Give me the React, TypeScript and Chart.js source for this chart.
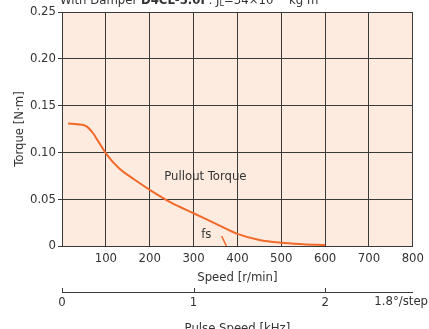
import React, { useEffect, useRef } from "react";
import { Chart, registerables } from "chart.js";

Chart.register(...registerables);

const speeds = [14, 35, 55, 70, 85, 100, 130, 165, 200, 250, 300, 350, 400, 450, 500, 550, 600];
const torques = [0.131, 0.130, 0.128, 0.121, 0.110, 0.099, 0.083, 0.071, 0.060, 0.046, 0.035, 0.024, 0.013, 0.0065, 0.0035, 0.002, 0.001];
const fsSpeeds = [364, 375];
const fsTorques = [0.0105, 0];
const pulseTicks = [0, 1, 2];
const pulseMax = 800 / 300;
const curveLabel = "Pullout Torque";
const fsLabel = "fs";
const stepLabel = "1.8°/step";

const FAMILY = "'DejaVu Sans Condensed', 'Liberation Sans', sans-serif";
const FS = 13;
const TXT = "#333333";
const GRID = "#3a3a3a";
const FILL = "#fdebdf";
const ORANGE = "#f26a2a";

const plugin = {
  id: "extras",
  beforeDraw(chart: any) {
    const { ctx, chartArea } = chart;
    ctx.save();
    ctx.fillStyle = FILL;
    ctx.fillRect(chartArea.left, chartArea.top, chartArea.right - chartArea.left, chartArea.bottom - chartArea.top);
    ctx.restore();
  },
  afterDraw(chart: any) {
    const { ctx } = chart;
    const x = chart.scales.x;
    const y = chart.scales.y;
    const x2 = chart.scales.x2;
    ctx.save();
    ctx.fillStyle = TXT;
    ctx.font = `${FS}px ${FAMILY}`;
    ctx.textAlign = "center";
    ctx.textBaseline = "middle";
    ctx.fillText(curveLabel, x.getPixelForValue(327), y.getPixelForValue(0.0737));
    ctx.fillText(fsLabel, x.getPixelForValue(329), y.getPixelForValue(0.0118));
    // up ticks on pulse axis
    ctx.strokeStyle = GRID;
    ctx.lineWidth = 1;
    ctx.beginPath();
    for (const v of pulseTicks) {
      const px = Math.round(x2.getPixelForValue(v)) + 0.5;
      ctx.moveTo(px, x2.top);
      ctx.lineTo(px, x2.top - 4);
    }
    ctx.stroke();
    ctx.textAlign = "right";
    ctx.fillText(stepLabel, chart.width - 1, x2.top + 10);
    // header
    ctx.textAlign = "left";
    ctx.textBaseline = "alphabetic";
    let cx = x.left - 2;
    const by = 4;
    const seg = (t: string, font: string, dy = 0) => {
      ctx.font = font;
      ctx.fillText(t, cx, by + dy);
      cx += ctx.measureText(t).width;
    };
    const reg = `${FS}px ${FAMILY}`;
    const bold = `bold ${FS}px ${FAMILY}`;
    const small = `9px ${FAMILY}`;
    seg("With Damper ", reg);
    seg("D4CL-5.0F", bold);
    seg(": J", reg);
    seg("L", small, 2);
    seg("=34×10", reg);
    seg("−7", small, -6);
    seg(" kg·m", reg);
    seg("2", small, -6);
    ctx.restore();
  },
};

export default function App() {
  const ref = useRef<HTMLCanvasElement>(null);
  useEffect(() => {
    if (!ref.current) return;
    const font = { family: FAMILY, size: FS };
    const chart = new Chart(ref.current, {
      type: "line",
      data: {
        datasets: [
          {
            data: speeds.map((s, i) => ({ x: s, y: torques[i] })),
            borderColor: ORANGE,
            borderWidth: 2,
            pointRadius: 0,
            cubicInterpolationMode: "monotone",
            fill: false,
          },
          {
            data: fsSpeeds.map((s, i) => ({ x: s, y: fsTorques[i] })),
            borderColor: ORANGE,
            borderWidth: 1.5,
            pointRadius: 0,
            fill: false,
          },
        ],
      },
      options: {
        animation: false,
        responsive: false,
        maintainAspectRatio: false,
        layout: { padding: { top: 12, right: 15, bottom: 0, left: 0 } },
        plugins: { legend: { display: false }, tooltip: { enabled: false } },
        scales: {
          x: {
            type: "linear",
            position: "bottom",
            min: 0,
            max: 800,
            afterFit: (s: any) => { s.height = 46; },
            ticks: {
              stepSize: 100,
              color: TXT,
              font,
              padding: 5,
              maxRotation: 0,
              callback: (v: any) => (v === 0 ? "" : String(v)),
            },
            grid: { color: GRID, lineWidth: 1, drawTicks: false },
            border: { color: GRID, width: 1 },
            title: { display: true, text: "Speed [r/min]", color: TXT, font, padding: { top: 0, bottom: 7 } },
          },
          x2: {
            type: "linear",
            position: "bottom",
            min: 0,
            max: pulseMax,
            afterFit: (s: any) => { s.height = 37; },
            afterBuildTicks: (s: any) => { s.ticks = pulseTicks.map((v) => ({ value: v })); },
            ticks: { color: TXT, font, padding: 3, maxRotation: 0, autoSkip: false },
            grid: { display: false, drawTicks: false },
            border: { display: true, color: GRID, width: 1 },
            title: { display: true, text: "Pulse Speed [kHz]", color: TXT, font, padding: { top: 0, bottom: -7 } },
          },
          y: {
            type: "linear",
            min: 0,
            max: 0.25,
            afterFit: (s: any) => { s.width = 62; },
            ticks: {
              stepSize: 0.05,
              color: TXT,
              font,
              padding: 2,
              callback: (v: any) => (v === 0 ? "0" : Number(v).toFixed(2)),
            },
            grid: { color: GRID, lineWidth: 1, tickLength: 4 },
            border: { color: GRID, width: 1 },
            title: { display: true, text: "Torque [N·m]", color: TXT, font, padding: { top: 12, bottom: 0 } },
          },
        },
      },
      plugins: [plugin],
    } as any);
    return () => chart.destroy();
  }, []);
  return (
    <div style={{ position: "fixed", left: 0, top: 0, width: 429, height: 329 }}>
      <canvas ref={ref} width={429} height={329} style={{ width: 429, height: 329 }} />
    </div>
  );
}
